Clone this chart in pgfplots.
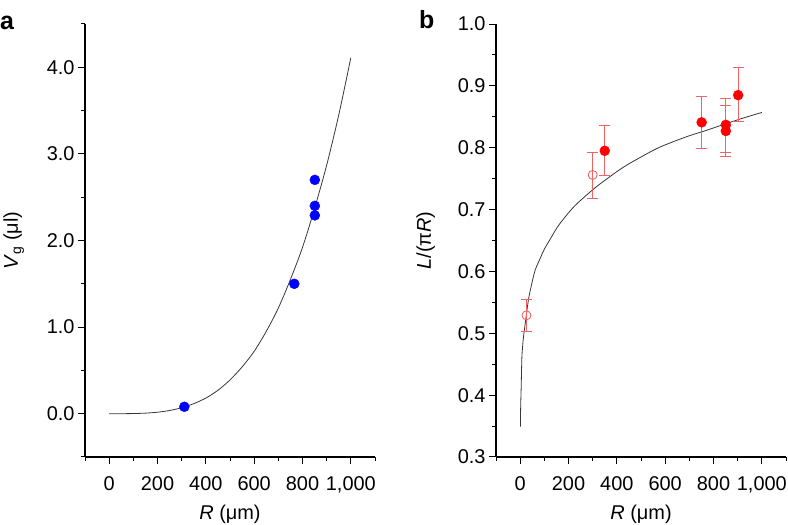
\documentclass[border=0pt]{standalone}
\usepackage{fontspec}
\setmainfont{Liberation Sans}
\usepackage{pgfplots}
\pgfplotsset{compat=1.18}

\definecolor{ptblue}{RGB}{0,0,255}
\definecolor{ptred}{RGB}{255,0,0}
\definecolor{errred}{RGB}{238,100,100}
\definecolor{curvegray}{RGB}{55,55,55}

\pgfplotsset{
 common/.style={
  scale only axis, width=290bp, height=433bp,
  axis x line*=bottom, axis y line*=left,
  axis line style={line width=1.1bp, black},
  tick style={line width=1bp, black},
  tick align=outside,
  major tick length=7bp, minor tick length=4bp,
  xmin=-100, xmax=1100,
  xtick={0,200,400,600,800,1000}, minor xtick={-100,100,300,500,700,900,1100},
  xticklabels={0,200,400,600,800,{1,000}},
  ticklabel style={font=\fontsize{20}{22}\selectfont},
  x tick label style={yshift=-9bp},
  label style={font=\fontsize{20}{22}\selectfont},
  xlabel style={yshift=-5bp},
  ylabel shift=16bp,
  /pgf/number format/assume math mode=true,
  y tick label style={/pgf/number format/fixed,/pgf/number format/fixed zerofill,/pgf/number format/precision=1},
  clip=false,
  xlabel={\textit{R} (μm)},
 }
}

\begin{document}
\begin{tikzpicture}
\useasboundingbox (0bp,0bp) rectangle (788bp,525bp);

\begin{axis}[common, at={(85bp,68bp)}, anchor=south west,
  ymin=-0.5, ymax=4.5, ytick={0,1,2,3,4},
  minor ytick={-0.5,0.5,1.5,2.5,3.5,4.5},
  ylabel={\textit{V}\textsubscript{g} (μl)}]
\addplot[curvegray, line width=0.8bp, smooth] coordinates {
(0,0) (50,0.0002) (100,0.0016) (150,0.0065) (200,0.017) (250,0.037)
(300,0.069) (350,0.116) (400,0.18) (450,0.27) (500,0.39) (550,0.54)
(600,0.72) (650,0.95) (700,1.22) (750,1.55) (800,1.92) (850,2.37)
(900,2.87) (950,3.45) (1000,4.11)};
\addplot[only marks, mark=*, mark size=5bp, color=ptblue] coordinates {
(311,0.08) (766,1.50) (851,2.29) (851,2.40) (851,2.70)};
\end{axis}

\begin{axis}[common, at={(496bp,68bp)}, anchor=south west,
  ymin=0.3, ymax=1.0, ytick={0.3,0.4,0.5,0.6,0.7,0.8,0.9,1.0},
  minor ytick={0.35,0.45,0.55,0.65,0.75,0.85,0.95},
  ylabel={\textit{L}/(π\textit{R})}]
\addplot[curvegray, line width=0.8bp, smooth, tension=0.5] coordinates {
(1,0.349) (2,0.38) (4,0.41) (7,0.46) (10,0.478) (14,0.495) (21,0.516)
(28,0.537) (35,0.556) (45,0.575) (62,0.602) (85,0.623) (100,0.636)
(124,0.652) (160,0.675) (221,0.704) (297,0.731) (360,0.750) (429,0.769)
(500,0.785) (567,0.799) (635,0.810) (705,0.820) (770,0.828) (830,0.836)
(915,0.847) (1000,0.857)};
% open circles
\addplot[only marks, mark=o, mark size=4.5bp, color=errred, line width=0.9bp,
  mark options={fill=white},
  error bars/.cd, y dir=both, y explicit,
  error bar style={errred, line width=0.9bp},
  error mark options={rotate=90, mark size=5.5bp, errred, line width=0.9bp}]
  table[x=x, y=y, y error plus=ep, y error minus=em] {
x y ep em
26 0.529 0.026 0.026
300 0.756 0.037 0.038
};
% filled circles: error bars
\addplot[only marks, mark=none, draw=none,
  error bars/.cd, y dir=both, y explicit,
  error bar style={errred, line width=0.9bp},
  error mark options={rotate=90, mark size=5.5bp, errred, line width=0.9bp}]
  table[x=x, y=y, y error plus=ep, y error minus=em] {
x y ep em
350 0.795 0.041 0.040
751 0.841 0.042 0.042
851 0.837 0.042 0.044
851 0.827 0.042 0.041
902 0.885 0.045 0.043
};
\addplot[only marks, mark=*, mark size=5bp, color=ptred] coordinates {
(350,0.795) (751,0.841) (851,0.837) (851,0.827) (902,0.885)};
\end{axis}

\node[anchor=base west, inner sep=0, font=\bfseries\fontsize{25}{25}\selectfont] at (0bp,495bp) {a};
\node[anchor=base west, inner sep=0, font=\bfseries\fontsize{25}{25}\selectfont] at (419bp,496bp) {b};
\end{tikzpicture}
\end{document}
